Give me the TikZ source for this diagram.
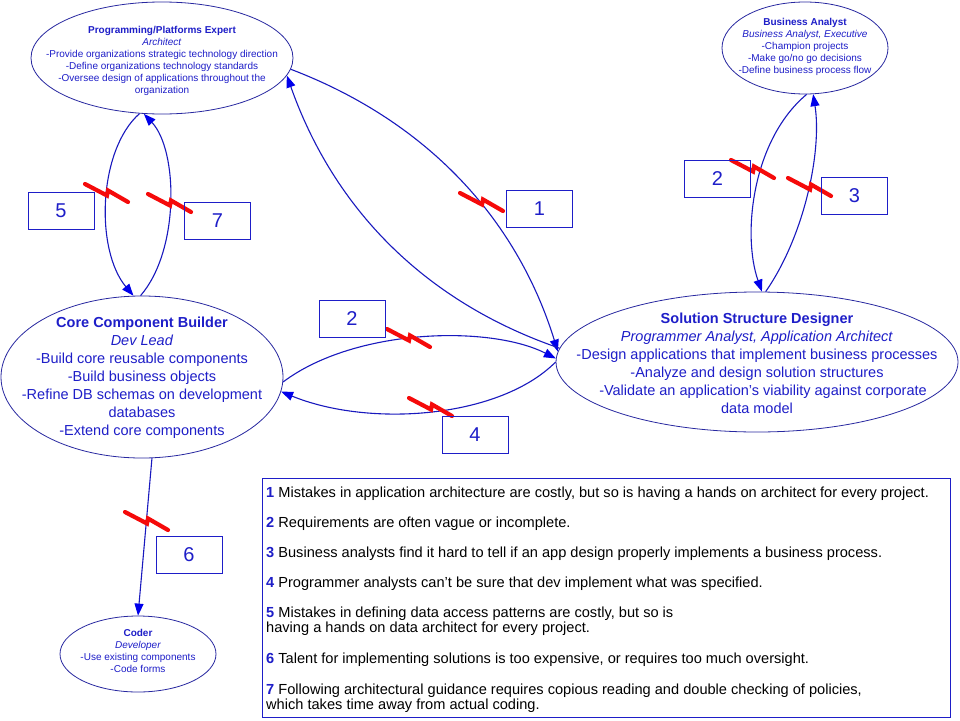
\documentclass[tikz,border=0pt]{standalone}
\usepackage{fontspec}
\setmainfont{Liberation Sans}
\usetikzlibrary{shapes.geometric,arrows.meta}
\definecolor{tblue}{RGB}{30,30,200}
\definecolor{lblue}{RGB}{25,25,190}
\definecolor{eblue}{RGB}{40,40,160}
\definecolor{afill}{RGB}{0,0,235}
\definecolor{bred}{RGB}{245,10,10}
\begin{document}
\begin{tikzpicture}[x=1pt,y=-1pt,
  role/.style={ellipse,draw=eblue,line width=0.8pt,inner sep=0pt},
  smalltext/.style={text=tblue,align=center,inner sep=0pt,font=\fontsize{10}{12}\selectfont},
  bigtext/.style={text=tblue,align=center,inner sep=0pt,font=\fontsize{14.5}{18}\selectfont},
  numbox/.style={draw=tblue,line width=0.8pt,minimum width=66pt,minimum height=37pt,inner sep=0pt,text=tblue,font=\fontsize{20}{24}\selectfont},
  conn/.style={draw=lblue,line width=1.1pt,-{Triangle[length=12pt,width=9pt,fill=afill,color=afill]}},
  zap/.pic={\draw[bred,line width=4.2pt,line cap=round] (-21,-9) -- (1,2.5) -- (2,-2.5) -- (22,9);},
  legtext/.style={anchor=base west,inner sep=0pt,font=\fontsize{14.6}{15}\selectfont},
]
\useasboundingbox (0,0) rectangle (960,720);
\fill[white] (0,0) rectangle (960,720);

% role ellipses
\node[role,minimum width=262pt,minimum height=112pt] (ppe) at (162,58) {};
\node[smalltext] (ppetext) at (162,61) {\textbf{Programming/Platforms Expert}\\\textit{Architect}\\-Provide organizations strategic technology direction\\-Define organizations technology standards\\-Oversee design of applications throughout the\\organization};

\node[role,minimum width=166pt,minimum height=92pt] (ba) at (805,48) {};
\node[smalltext] (batext) at (805,47) {\textbf{Business Analyst}\\\textit{Business Analyst, Executive}\\-Champion projects\\-Make go/no go decisions\\-Define business process flow};

\node[role,minimum width=282pt,minimum height=162pt] (ccb) at (142,377) {};
\node[bigtext] (ccbtext) at (142,378) {\textbf{Core Component Builder}\\\textit{Dev Lead}\\-Build core reusable components\\-Build business objects\\-Refine DB schemas on development\\databases\\-Extend core components};

\node[role,minimum width=402pt,minimum height=140pt] (ssd) at (757,362) {};
\node[bigtext] (ssdtext) at (757,363) {\textbf{Solution Structure Designer}\\\textit{Programmer Analyst, Application Architect}\\-Design applications that implement business processes\\-Analyze and design solution structures\\\hspace*{12pt}-Validate an application’s viability against corporate\\data model};

\node[role,minimum width=156pt,minimum height=76pt] (coder) at (138,654) {};
\node[smalltext] (codertext) at (138,651) {\textbf{Coder}\\\textit{Developer}\\-Use existing components\\-Code forms};

% connectors
\draw[conn] (ppe.-5) .. controls (424,120) and (516,216) .. (ssd.177);
\draw[conn] (ssd.176) .. controls (425,302) and (334,209) .. (ppe.-8);
\draw[conn] (ccb.-2) .. controls (355,328) and (490,325) .. (ssd.179);
\draw[conn] (ssd.180) .. controls (500,418) and (370,428) .. (ccb.-6);
\draw[conn] (ppe.-112) .. controls (98,150) and (95,250) .. (ccb.96);
\draw[conn] (ccb.91) .. controls (180,250) and (178,150) .. (ppe.-108);
\draw[conn] (ba.-88) .. controls (752,140) and (742,235) .. (ssd.86);
\draw[conn] (ssd.83) .. controls (805,235) and (822,150) .. (ba.-80);
\draw[conn] (ccb.-83) -- (coder.90);

% break marks
\pic at (481,202) {zap};
\pic at (408,338) {zap};
\pic at (430,407) {zap};
\pic at (106,193) {zap};
\pic at (169,203) {zap};
\pic at (752,169) {zap};
\pic at (809,187) {zap};
\pic at (146,521) {zap};

% number boxes
\node[numbox] (n1) at (539.5,208.5) {1};
\node[numbox] (n2a) at (352,318.5) {2};
\node[numbox] (n4) at (475,434.5) {4};
\node[numbox] (n5) at (61,211) {5};
\node[numbox] (n7) at (217.5,220.5) {7};
\node[numbox] (n2b) at (717.5,178.5) {2};
\node[numbox] (n3) at (854.5,195.5) {3};
\node[numbox] (n6) at (189,554.5) {6};

% legend
\node[draw=tblue,line width=1pt,minimum width=688pt,minimum height=239pt,anchor=north west,inner sep=0pt] (legend) at (262,478) {};
\node[legtext] (t1) at (266,497) {\textcolor{tblue}{\textbf{1}} Mistakes in application architecture are costly, but so is having a hands on architect for every project.};
\node[legtext] (t2) at (266,527) {\textcolor{tblue}{\textbf{2}} Requirements are often vague or incomplete.};
\node[legtext] (t3) at (266,557) {\textcolor{tblue}{\textbf{3}} Business analysts find it hard to tell if an app design properly implements a business process.};
\node[legtext] (t4) at (266,587) {\textcolor{tblue}{\textbf{4}} Programmer analysts can’t be sure that dev implement what was specified.};
\node[legtext] (t5a) at (266,617) {\textcolor{tblue}{\textbf{5}} Mistakes in defining data access patterns are costly, but so is};
\node[legtext] (t5b) at (266,632) {having a hands on data architect for every project.};
\node[legtext] (t6) at (266,663) {\textcolor{tblue}{\textbf{6}} Talent for implementing solutions is too expensive, or requires too much oversight.};
\node[legtext] (t7a) at (266,694) {\textcolor{tblue}{\textbf{7}} Following architectural guidance requires copious reading and double checking of policies,};
\node[legtext] (t7b) at (266,709) {which takes time away from actual coding.};
\end{tikzpicture}
\end{document}
